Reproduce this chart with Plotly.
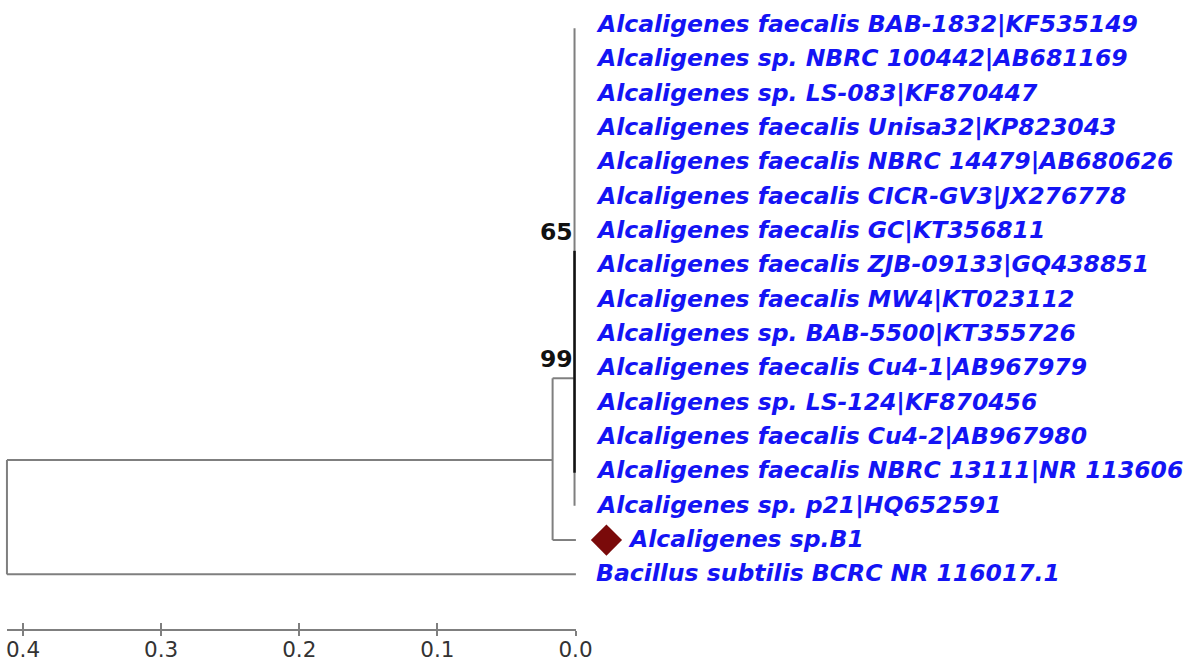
import plotly.graph_objects as go

# ---------------- data ----------------
leaf_labels = [
    "Alcaligenes faecalis BAB-1832|KF535149",
    "Alcaligenes sp. NBRC 100442|AB681169",
    "Alcaligenes sp. LS-083|KF870447",
    "Alcaligenes faecalis Unisa32|KP823043",
    "Alcaligenes faecalis NBRC 14479|AB680626",
    "Alcaligenes faecalis CICR-GV3|JX276778",
    "Alcaligenes faecalis GC|KT356811",
    "Alcaligenes faecalis ZJB-09133|GQ438851",
    "Alcaligenes faecalis MW4|KT023112",
    "Alcaligenes sp. BAB-5500|KT355726",
    "Alcaligenes faecalis Cu4-1|AB967979",
    "Alcaligenes sp. LS-124|KF870456",
    "Alcaligenes faecalis Cu4-2|AB967980",
    "Alcaligenes faecalis NBRC 13111|NR 113606",
    "Alcaligenes sp. p21|HQ652591",
    "Alcaligenes sp.B1",
    "Bacillus subtilis BCRC NR 116017.1",
]
leaf_rows = list(range(1, 18))
query_leaf = "Alcaligenes sp.B1"

# node depths (distance from the tips, axis units)
root_depth = 0.4116
alc_node_depth = 0.0159
clusterA_depth = 0.0
tip_depth = 0.0

# node rows (vertical placement from the tree layout)
alc_node_row = 13.67
clusterA_row = 11.29
clusterA_span = [1.1, 15]
node65_span = [7.58, 14.04]

bootstrap_values = ["65", "99"]
bootstrap_rows = [node65_span[0], clusterA_row]

scale_ticks = [0.4, 0.3, 0.2, 0.1, 0.0]
scale_tick_text = ["0.4", "0.3", "0.2", "0.1", "0.0"]

# ---------------- geometry helpers ----------------
W, H = 1188, 662
W_plot, H_plot = 1173, 658    # effective plotting area observed in the renderer
px_per_unit = 1382.5
x_px0 = 575.0                 # pixel of distance 0.0
x_left = x_px0 / px_per_unit
x_right = -(W_plot - x_px0) / px_per_unit
row_px0, row_step = 25.0, 34.5
y_top = 1 + (0 - row_px0) / row_step
y_bot = 1 + (H_plot - row_px0) / row_step

GRAY = "#7f7f7f"
BLUE = "#1414f4"
FONT = "DejaVu Sans"

fig = go.Figure()

def seg(x0, y0, x1, y1, color=GRAY, width=2):
    fig.add_trace(go.Scatter(x=[x0, x1], y=[y0, y1], mode="lines",
                             line=dict(color=color, width=width),
                             hoverinfo="skip", showlegend=False))

bac_row = leaf_rows[-1]
b1_row = leaf_rows[-2]
# root
seg(root_depth, alc_node_row, root_depth, bac_row)
seg(root_depth, alc_node_row, alc_node_depth, alc_node_row)
seg(root_depth, bac_row, tip_depth - 0.001, bac_row)
# Alcaligenes node
seg(alc_node_depth, clusterA_row, alc_node_depth, b1_row)
seg(alc_node_depth, clusterA_row, clusterA_depth, clusterA_row)
seg(alc_node_depth, b1_row, tip_depth - 0.001, b1_row)
# cluster A
seg(clusterA_depth, clusterA_span[0], clusterA_depth, clusterA_span[1])
seg(clusterA_depth, node65_span[0], clusterA_depth, node65_span[1], color="#111111", width=2.5)

# diamond marker for query strain
fig.add_trace(go.Scatter(x=[tip_depth - 32 / px_per_unit], y=[b1_row], mode="markers",
                         marker=dict(symbol="diamond", size=24, color="#7a0a0a"),
                         hoverinfo="skip", showlegend=False))

# leaf labels
for lab, r in zip(leaf_labels, leaf_rows):
    shift = 51 if lab == query_leaf else 19
    fig.add_annotation(x=tip_depth, y=r, text=f"<b><i>{lab}</i></b>", showarrow=False,
                       xanchor="left", yanchor="middle", xshift=shift, yshift=1,
                       font=dict(family=FONT, size=23.5, color=BLUE))

# bootstrap labels
for val, r in zip(bootstrap_values, bootstrap_rows):
    fig.add_annotation(x=clusterA_depth, y=r, text=f"<b>{val}</b>", showarrow=False,
                       xanchor="right", yanchor="bottom", xshift=0, yshift=3,
                       font=dict(family=FONT, size=23.5, color="#111111"))

# scale axis (invisible anchor traces)
for ax in ("x2", "x3"):
    fig.add_trace(go.Scatter(x=[root_depth, 0], y=[bac_row, bac_row], xaxis=ax, yaxis="y",
                             mode="lines", line=dict(width=0, color="rgba(0,0,0,0)"),
                             hoverinfo="skip", showlegend=False))

axis_pos = 1 - 633 / H_plot
dom = [6 / W_plot, 576 / W_plot]
fig.update_layout(
    width=W, height=H, autosize=False,
    margin=dict(l=0, r=0, t=0, b=0),
    paper_bgcolor="white", plot_bgcolor="rgba(0,0,0,0)",
    xaxis=dict(range=[x_left, x_right], visible=False, domain=[0, 1]),
    yaxis=dict(range=[y_bot, y_top], visible=False, domain=[0, 1]),
    xaxis2=dict(domain=dom, range=[root_depth, 0], anchor="free", position=axis_pos,
                showline=True, linecolor=GRAY, linewidth=2, showgrid=False, zeroline=False,
                ticks="inside", ticklen=6, tickwidth=2, tickcolor=GRAY,
                tickvals=scale_ticks, ticktext=scale_tick_text,
                tickfont=dict(family=FONT, size=21.5, color="#333333")),
    xaxis3=dict(domain=dom, range=[root_depth, 0], anchor="free", position=axis_pos,
                showline=False, showgrid=False, zeroline=False,
                ticks="outside", ticklen=5, tickwidth=2, tickcolor=GRAY,
                tickvals=scale_ticks, showticklabels=False),
)

fig.write_html("out.html", config={"responsive": False})
